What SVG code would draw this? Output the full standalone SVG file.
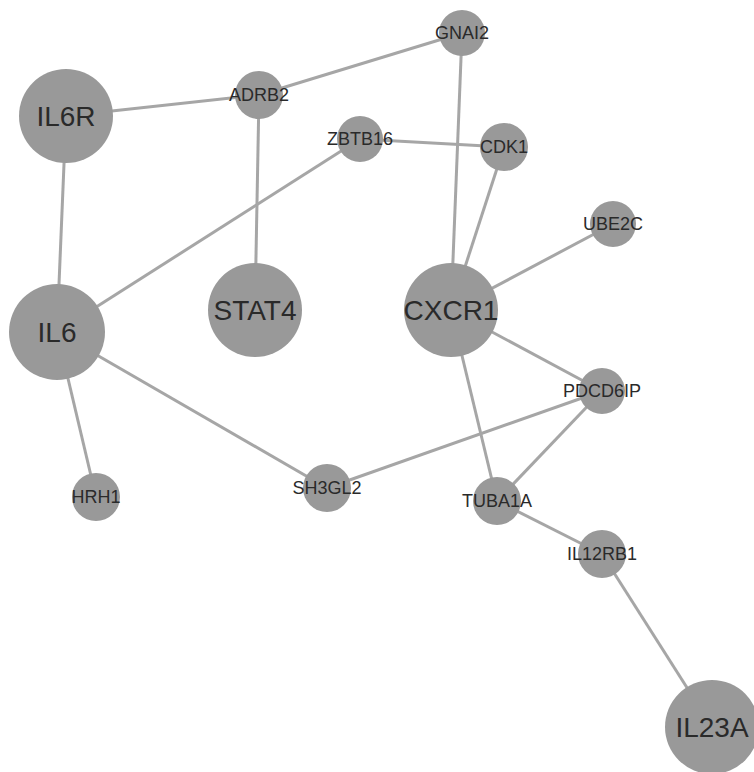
<svg xmlns="http://www.w3.org/2000/svg" width="754" height="772" viewBox="0 0 754 772">
<style>
.e{stroke:#a6a6a6;stroke-width:3;fill:none}
.n{fill:#999999}
.t{font-family:"Liberation Sans",Arial,sans-serif;fill:#2a2a2a;text-anchor:middle;dominant-baseline:central}
.s{font-size:18px}
.b{font-size:28px}
</style>
<rect width="754" height="772" fill="#ffffff"/>
<g id="edges">
<line class="e" x1="66" y1="116" x2="259" y2="95"/>
<line class="e" x1="259" y1="95" x2="462" y2="33"/>
<line class="e" x1="259" y1="95" x2="255" y2="310"/>
<line class="e" x1="462" y1="33" x2="451" y2="310"/>
<line class="e" x1="360" y1="139" x2="504" y2="147"/>
<line class="e" x1="360" y1="139" x2="57" y2="332"/>
<line class="e" x1="504" y1="147" x2="451" y2="310"/>
<line class="e" x1="613" y1="224" x2="451" y2="310"/>
<line class="e" x1="66" y1="116" x2="57" y2="332"/>
<line class="e" x1="57" y1="332" x2="96" y2="497"/>
<line class="e" x1="57" y1="332" x2="327" y2="488"/>
<line class="e" x1="327" y1="488" x2="602" y2="391"/>
<line class="e" x1="451" y1="310" x2="602" y2="391"/>
<line class="e" x1="451" y1="310" x2="497" y2="501"/>
<line class="e" x1="602" y1="391" x2="497" y2="501"/>
<line class="e" x1="497" y1="501" x2="602" y2="554"/>
<line class="e" x1="602" y1="554" x2="712" y2="727"/>
</g>
<g id="GNAI2"><circle class="n" cx="462" cy="33" r="23"/><text class="t s" x="462" y="33">GNAI2</text></g>
<g id="ADRB2"><circle class="n" cx="259" cy="95" r="24"/><text class="t s" x="259" y="95">ADRB2</text></g>
<g id="IL6R"><circle class="n" cx="66" cy="116" r="47"/><text class="t b" x="66" y="116">IL6R</text></g>
<g id="ZBTB16"><circle class="n" cx="360" cy="139" r="23"/><text class="t s" x="360" y="139">ZBTB16</text></g>
<g id="CDK1"><circle class="n" cx="504" cy="147" r="24"/><text class="t s" x="504" y="147">CDK1</text></g>
<g id="UBE2C"><circle class="n" cx="613" cy="224" r="23"/><text class="t s" x="613" y="224">UBE2C</text></g>
<g id="STAT4"><circle class="n" cx="255" cy="310" r="47"/><text class="t b" x="255" y="310">STAT4</text></g>
<g id="CXCR1"><circle class="n" cx="451" cy="310" r="47"/><text class="t b" x="451" y="310">CXCR1</text></g>
<g id="IL6"><circle class="n" cx="57" cy="332" r="48"/><text class="t b" x="57" y="332">IL6</text></g>
<g id="PDCD6IP"><circle class="n" cx="602" cy="391" r="23"/><text class="t s" x="602" y="391">PDCD6IP</text></g>
<g id="HRH1"><circle class="n" cx="96" cy="497" r="24"/><text class="t s" x="96" y="497">HRH1</text></g>
<g id="SH3GL2"><circle class="n" cx="327" cy="488" r="24"/><text class="t s" x="327" y="488">SH3GL2</text></g>
<g id="TUBA1A"><circle class="n" cx="497" cy="501" r="24"/><text class="t s" x="497" y="501">TUBA1A</text></g>
<g id="IL12RB1"><circle class="n" cx="602" cy="554" r="24"/><text class="t s" x="602" y="554">IL12RB1</text></g>
<g id="IL23A"><circle class="n" cx="712" cy="727" r="47"/><text class="t b" x="712" y="727">IL23A</text></g>
</svg>
